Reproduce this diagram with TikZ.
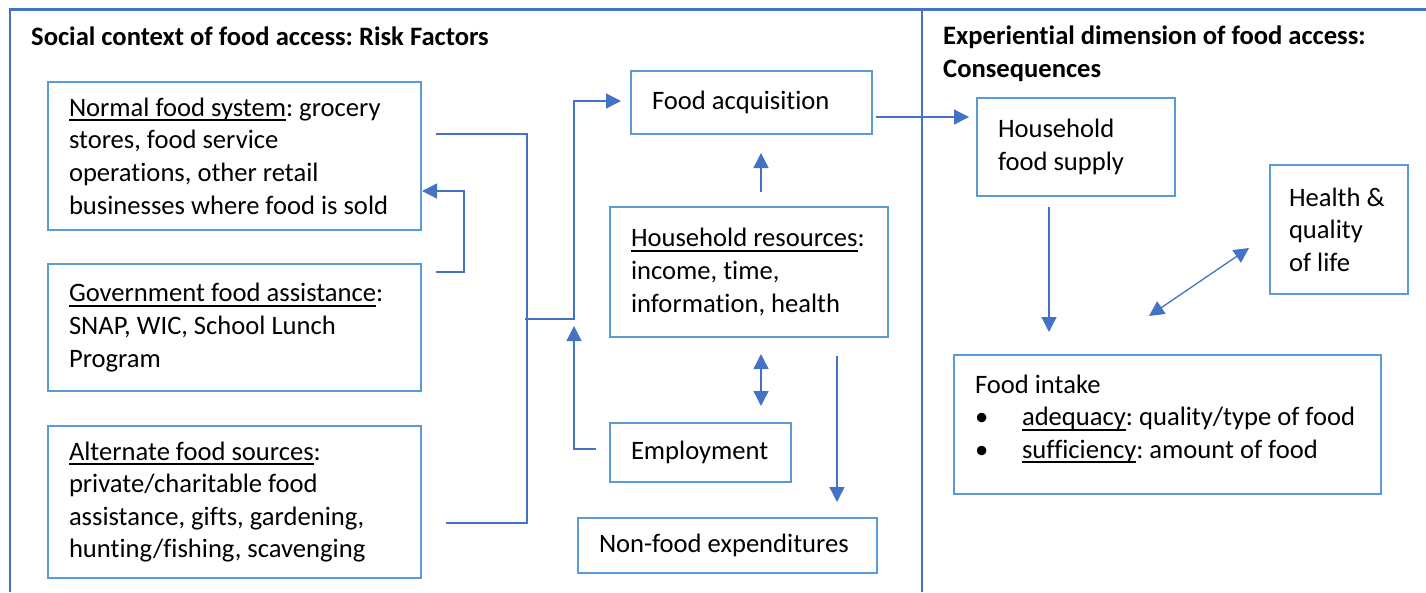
\documentclass[tikz,border=0pt]{standalone}
\usepackage{fontspec}
\setmainfont{Carlito}[RawFeature={-liga;-clig;-calt;-dlig}]
\usetikzlibrary{positioning,arrows.meta}
\definecolor{boxblue}{HTML}{5B9BD5}
\definecolor{lineblue}{HTML}{4472C4}
\newcommand\ulkey[1]{\setbox0=\hbox{#1}\rlap{\rule[-4.7pt]{\wd0}{2pt}}\box0}
\frenchspacing

\begin{document}
\begin{tikzpicture}[x=1pt, y=-1pt,
  box/.style = {draw=boxblue, line width=2pt, inner xsep=21pt, inner ysep=0pt, align=flush left, font=\fontsize{26.6pt}{32.6pt}\selectfont},
  head/.style = {inner sep=0pt, align=flush left, font=\fontsize{26.6pt}{32.4pt}\selectfont\bfseries},
  frame/.style = {draw=lineblue, line width=2.5pt},
  link/.style = {draw=lineblue, line width=1.3pt},
  arrow/.style = {link, -{Triangle[length=15pt,width=15pt]}},
  dbl/.style = {link, {Triangle[length=15pt,width=15pt]}-{Triangle[length=15pt,width=15pt]}}]
\useasboundingbox (0,0) rectangle (1426,592);
\draw[frame] (10,592) -- (10,9.5) -- (1426,9.5);
\draw[frame] (922,9.5) -- (922,592);
\node[head, anchor=base west] (t1) at (31,45) {Social context of food access: Risk Factors};
\node[head, anchor=base west] (t2) at (943,77.3) {Experiential dimension of food access:\\ Consequences};

\node[box, text width=331pt, minimum height=148pt] (1) at (234.5,156) {\ulkey{Normal food system}: grocery\\ stores, food service\\ operations, other retail\\ businesses where food is sold};
\node[box, text width=331pt, minimum height=127pt] (2) [below=32pt of 1] {\ulkey{Government food assistance}:\\ SNAP, WIC, School Lunch\\ Program};
\node[box, text width=331pt, minimum height=152pt] (3) [below=33pt of 2] {\ulkey{Alternate food sources}:\\ private/charitable food\\ assistance, gifts, gardening,\\ hunting/fishing, scavenging};
\node[box, text width=199pt, minimum height=63pt] (4) at (751.5,102.5) {Food acquisition};
\node[box, text width=236pt, minimum height=130pt] (5) at (749,272) {\ulkey{Household resources}:\\ income, time,\\ information, health};
\node[box, text width=139pt, minimum height=59pt] (6) at (700.5,452.5) {Employment};
\node[box, text width=257pt, minimum height=55pt] (7) at (727.5,545.5) {Non-food expenditures};
\node[box, text width=156pt, minimum height=98pt] (8) at (1076,147) {Household\\ food supply};
\node[box, inner xsep=19pt, text width=100pt, minimum height=129pt] (9) at (1339,229.5) {Health \&\\ quality\\ of life};
\node[box, text width=385pt, minimum height=139pt] (10) at (1167.5,424.5) {Food intake\\ \mbox{\makebox[47pt][l]{\textbullet}\ulkey{adequacy}: quality/type of food}\\ \mbox{\makebox[47pt][l]{\textbullet}\ulkey{sufficiency}: amount of food}\\[-17pt]\mbox{}};

\coordinate (j) at (527,319);
\draw[link] ([xshift=14pt,yshift=22pt]1.east) -| (j) |- ([xshift=24pt,yshift=-21pt]3.east);
\draw[arrow] ([xshift=-2pt]j) -- ++(49,0) |- ([xshift=-9pt,yshift=1.5pt]4.west);
\draw[arrow] ([xshift=14pt,yshift=55.5pt]2.east) -- ++(28,0) |- ([yshift=-35pt]1.east);
\draw[arrow] ([xshift=-13pt,yshift=3.5pt]6.west) -| ([xshift=47pt,yshift=-7pt]j);
\draw[arrow, shorten <=14pt, shorten >=18pt] ([xshift=12pt]5.north) -- ([xshift=9.5pt]4.south);
\draw[dbl, shorten <=16pt, shorten >=16pt] ([xshift=12pt]5.south) -- ([xshift=60.5pt]6.north);
\draw[arrow, shorten <=18pt, shorten >=15pt] ([xshift=88pt]5.south) -- ([xshift=109.5pt]7.north);
\draw[arrow, shorten <=3pt, shorten >=7pt] ([yshift=-14.5pt]4.east) -- ([yshift=30pt]8.west);
\draw[arrow, shorten <=10pt, shorten >=22pt] ([xshift=-27pt]8.south) -- ([xshift=-118.5pt]10.north);
\draw[dbl] ([xshift=-18.5pt,yshift=38pt]10.north) -- ([xshift=-20pt,yshift=-18.5pt]9.west);
\end{tikzpicture}
\end{document}
